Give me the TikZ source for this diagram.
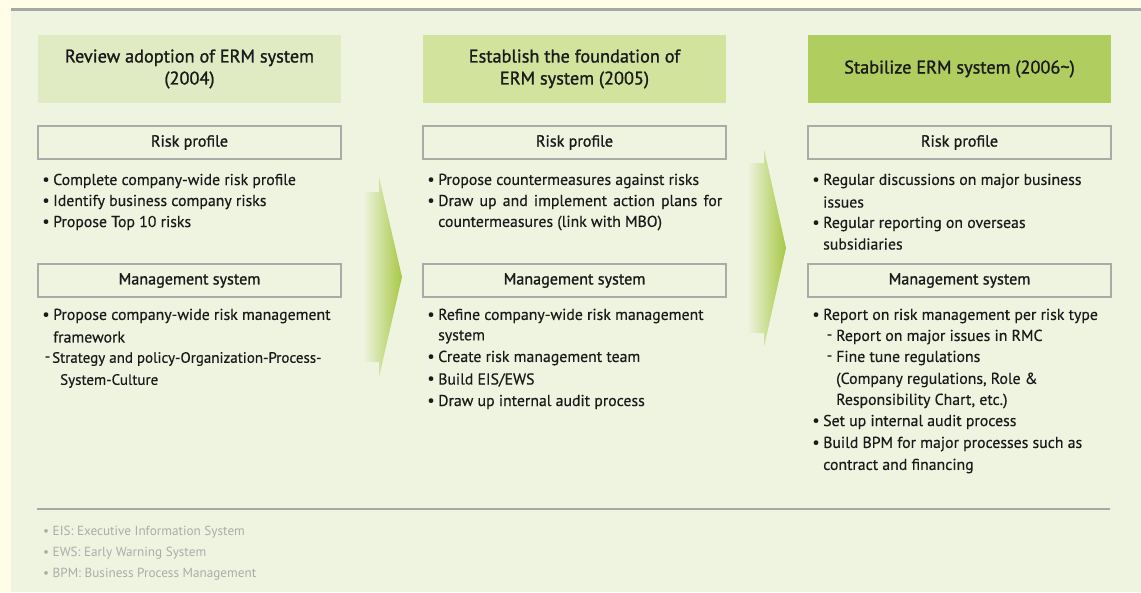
\documentclass[tikz,border=0pt]{standalone}
\usepackage{fontspec}
\setmainfont{PT Sans}
\newfontfamily\medfont[FakeBold=1.2]{PT Sans}
\newfontfamily\bodyfont[FakeBold=0.4]{PT Sans}
\usetikzlibrary{positioning}
\definecolor{cream}{HTML}{FFFDE8}
\definecolor{panel}{HTML}{EFF4E1}
\definecolor{hdrA}{HTML}{E0EBC3}
\definecolor{hdrB}{HTML}{D2E39E}
\definecolor{hdrC}{HTML}{B0CE60}
\definecolor{boxline}{HTML}{A8ACA8}
\definecolor{topline}{HTML}{A4A8A6}
\definecolor{arrowgreen}{HTML}{A6C845}
\definecolor{notegray}{HTML}{A9ADA9}
\definecolor{ink}{HTML}{1A1A1A}
\tikzset{
  hdr/.style={minimum width=303pt, minimum height=68pt, inner sep=0pt, align=center, font=\medfont\fontsize{18.3}{22}\selectfont, text=ink},
  secbox/.style={draw=boxline, line width=1.2pt, minimum width=303pt, minimum height=33pt, inner sep=0pt, font=\medfont\fontsize{16.1}{16}\selectfont, text=ink},
  txt/.style={anchor=west, inner sep=0pt, font=\bodyfont\fontsize{15.8}{16}\selectfont, text=ink},
  bul/.style={anchor=center, inner sep=0pt, font=\bodyfont\fontsize{15.8}{16}\selectfont, text=ink},
  note/.style={anchor=west, inner sep=0pt, font=\fontsize{13.2}{14}\selectfont, text=notegray},
  stagearrow/.style={left color=panel, right color=arrowgreen, draw=none}
}
\begin{document}
\begin{tikzpicture}[x=1pt,y=-1pt]
\useasboundingbox (0,0) rectangle (1141,592);
\fill[cream] (0,0) rectangle (1141,592);
\fill[panel] (11,10) rectangle (1141,592);
\fill[topline] (11,8) rectangle (1141,10.5);

% stage arrows
\shade[stagearrow] (363,192) -- (379,192) -- (379,177) -- (402,277) -- (379,377) -- (379,362) -- (363,362) -- cycle;
\shade[stagearrow] (747,163) -- (764,163) -- (764,149) -- (786,248) -- (764,347) -- (764,333) -- (747,333) -- cycle;

% headers
\node[hdr, fill=hdrA] (h1) at (189.5,69) {Review adoption of ERM system\\(2004)};
\node[hdr, fill=hdrB] (h2) at (574.5,69) {Establish the foundation of\\ERM system (2005)};
\node[hdr, fill=hdrC] (h3) at (959.5,69) {Stabilize ERM system (2006\textasciitilde)};

% section boxes
\node[secbox] (r1) at (189.5,142.5) {Risk profile};
\node[secbox] (r2) at (574.5,142.5) {Risk profile};
\node[secbox] (r3) at (959.5,142.5) {Risk profile};
\node[secbox] (m1) at (189.5,280.5) {Management system};
\node[secbox] (m2) at (574.5,280.5) {Management system};
\node[secbox] (m3) at (959.5,280.5) {Management system};

% column 1
\node[bul] (b11) at (46,181) {•};
\node[txt] (t11) at (53,181) {Complete company-wide risk profile};
\node[bul] (b12) at (46,202) {•};
\node[txt] (t12) at (53,202) {Identify business company risks};
\node[bul] (b13) at (46,223) {•};
\node[txt] (t13) at (53,223) {Propose Top 10 risks};
\node[bul] (b14) at (46,316) {•};
\node[txt] (t14) at (53,316) {Propose company-wide risk management};
\node[txt] (t15) at (53,337) {framework};
\node[bul] (d16) at (47.5,359) {-};
\node[txt, font=\bodyfont\fontsize{15}{16}\selectfont] (t16) at (52,359) {Strategy and policy-Organization-Process-};
\node[txt, font=\bodyfont\fontsize{15}{16}\selectfont] (t17) at (60,381) {System-Culture};

% column 2
\node[bul] (b21) at (431,181) {•};
\node[txt] (t21) at (438,181) {Propose countermeasures against risks};
\node[bul] (b22) at (431,202) {•};
\node[txt] (t22) at (438,202) {\makebox[284pt][s]{Draw up and implement action plans for}};
\node[txt] (t23) at (438,223) {countermeasures (link with MBO)};
\node[bul] (b24) at (431,316) {•};
\node[txt] (t24) at (438,316) {Refine company-wide risk management};
\node[txt] (t25) at (438,337) {system};
\node[bul] (b26) at (431,358) {•};
\node[txt] (t26) at (438,358) {Create risk management team};
\node[bul] (b27) at (431,380) {•};
\node[txt] (t27) at (438,380) {Build EIS/EWS};
\node[bul] (b28) at (431,402) {•};
\node[txt] (t28) at (438,402) {Draw up internal audit process};

% column 3
\node[bul] (b31) at (816,181) {•};
\node[txt] (t31) at (823,181) {Regular discussions on major business};
\node[txt] (t32) at (823,202) {issues};
\node[bul] (b33) at (816,224) {•};
\node[txt] (t33) at (823,224) {Regular reporting on overseas};
\node[txt] (t34) at (823,244) {subsidiaries};
\node[bul] (b35) at (816,316) {•};
\node[txt] (t35) at (823,316) {Report on risk management per risk type};
\node[bul] (d36) at (829.5,337) {-};
\node[txt] (t36) at (836,337) {Report on major issues in RMC};
\node[bul] (d37) at (829.5,358) {-};
\node[txt] (t37) at (836,358) {Fine tune regulations};
\node[txt] (t38) at (836,380) {(Company regulations, Role \&};
\node[txt] (t39) at (836,401) {Responsibility Chart, etc.)};
\node[bul] (b3a) at (816,422) {•};
\node[txt] (t3a) at (823,422) {Set up internal audit process};
\node[bul] (b3b) at (816,444) {•};
\node[txt] (t3b) at (823,444) {Build BPM for major processes such as};
\node[txt] (t3c) at (823,466) {contract and financing};

% bottom rule and notes
\coordinate (ruleL) at (37,509);
\coordinate (ruleR) at (1110,509);
\draw[topline, line width=1.3pt] (ruleL) -- (ruleR);
\node[note] (n1) at (43,532) {•\ EIS: Executive Information System};
\node[note] (n2) at (43,553) {•\ EWS: Early Warning System};
\node[note] (n3) at (43,574) {•\ BPM: Business Process Management};
\end{tikzpicture}
\end{document}
